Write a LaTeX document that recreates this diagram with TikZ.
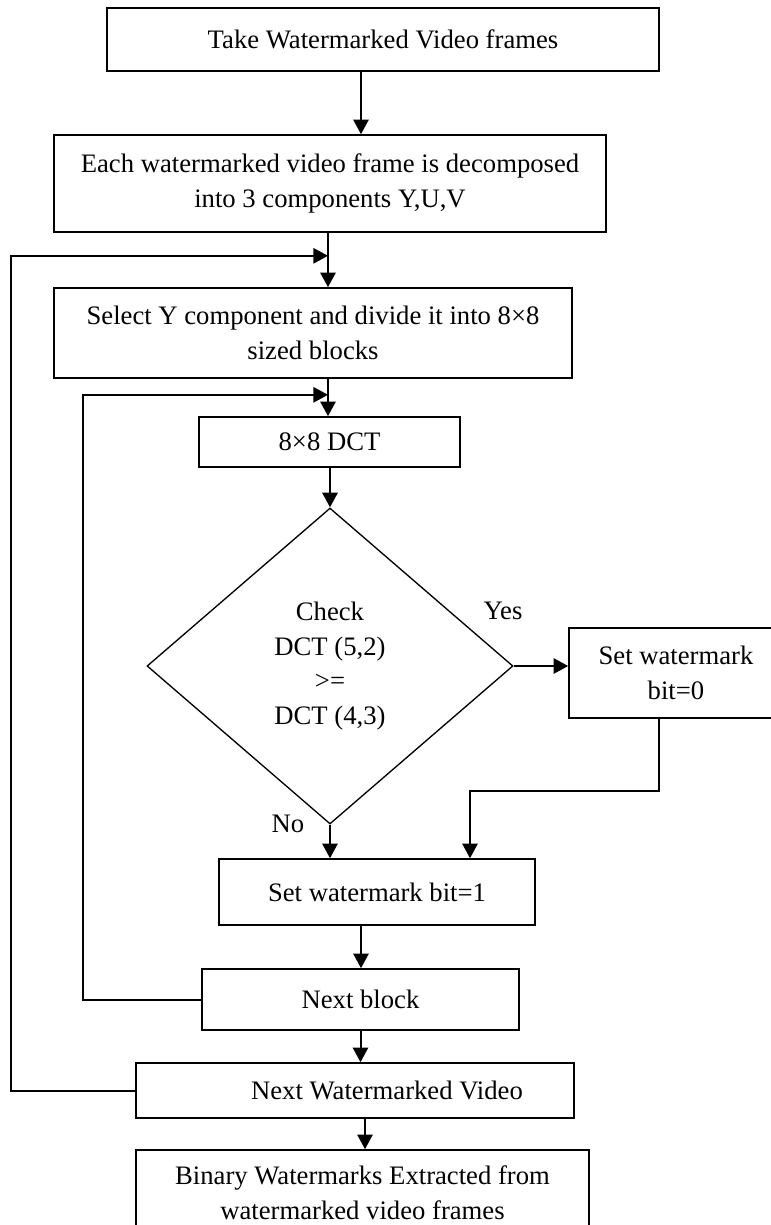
\documentclass[tikz,border=0pt]{standalone}
\usepackage{fontspec}
\setmainfont{Liberation Serif}
\usetikzlibrary{arrows.meta,shapes.geometric,calc}

\tikzset{
  box/.style={draw, line width=1.2pt, inner sep=2pt, align=center},
  decision/.style={draw, diamond, line width=1pt, inner sep=0pt, align=center,
    minimum width=274.5pt, minimum height=237pt},
  arr/.style={line width=1.5pt, -{Triangle[length=11pt,width=11.5pt]}}
}

\begin{document}
\begin{tikzpicture}[x=0.75pt, y=-0.75pt, font=\fontsize{20pt}{26pt}\selectfont]
\useasboundingbox (0,0) rectangle (771,1225);
\clip (0,0) rectangle (771,1225);

\node[box, minimum width=414pt, minimum height=47.25pt] (take) at (383,39.5) {Take Watermarked Video frames};
\node[box, minimum width=414pt, minimum height=72.75pt] (decomp) at (330,183.5) {Each watermarked video frame is decomposed\\into 3 components Y,U,V};
\node[box, minimum width=388.5pt, minimum height=67.5pt] (selecty) at (313,333) {Select Y component and divide it into 8×8\\sized blocks};
\node[box, minimum width=195.75pt, minimum height=37.5pt] (dct) at (329.5,442) {8×8 DCT};
\node[decision] (check) at (330,666) {Check\\DCT (5,2)\\>=\\DCT (4,3)};
\node[box, minimum width=160.5pt, minimum height=67.5pt] (bitzero) at (676,673) {Set watermark\\bit=0};
\node[box, minimum width=237pt, minimum height=49.5pt] (bitone) at (377,892) {Set watermark bit=1};
\node[box, minimum width=237.75pt, minimum height=45.75pt] (nextblk) at (360.5,999.5) {Next block};
\node[box, minimum width=328.5pt, minimum height=41.25pt] (nextvid) at (355,1090.5) {\hspace*{48pt}Next Watermarked Video};
\node[box, minimum width=339.75pt, minimum height=63.75pt] (extracted) at (362.5,1192.5) {Binary Watermarks Extracted from\\watermarked video frames};

\node (yes) at (503,611) {Yes};
\node (no) at (288,824) {No};

\coordinate (join1) at ($(decomp.south)+(-2,23)$);
\coordinate (join2) at ($(selecty.south)+(15,16)$);

\draw[arr] ([xshift=-16.5pt]take.south) -- ([xshift=-16.5pt]take.south |- decomp.north);
\draw[arr] (join1 |- decomp.south) -- (join1 |- selecty.north);
\draw[arr] (join2 |- selecty.south) -- (join2 |- dct.north);
\draw[arr] (check.north |- dct.south) -- (check.north);
\draw[arr] (check.east) -- (check.east -| bitzero.west);
\draw[arr] (check.south) -- (check.south |- bitone.north);
\draw[arr] ([xshift=-12.75pt]bitzero.south) -- ++(0,72) -| ([xshift=69.75pt]bitone.north);
\draw[arr] ([xshift=-12pt]bitone.south) -- ([xshift=-12pt]bitone.south |- nextblk.north);
\draw[arr] (nextblk.south) -- (nextblk.south |- nextvid.north);
\draw[arr] ([xshift=7.5pt]nextvid.south) -- ([xshift=7.5pt]nextvid.south |- extracted.north);

\draw[arr] (nextblk.west) -- ++(-118,0) |- (join2);
\draw[arr] (nextvid.west) -- ++(-124,0) |- (join1);
\end{tikzpicture}
\end{document}
